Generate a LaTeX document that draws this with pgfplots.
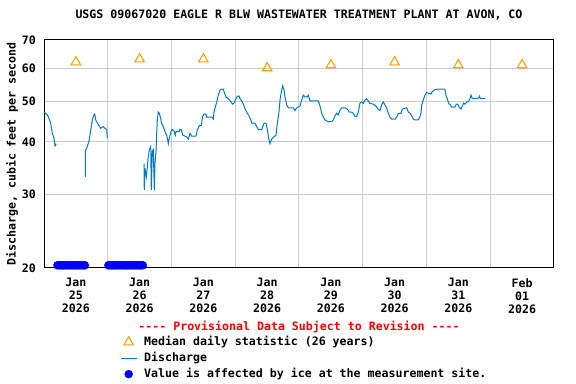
\documentclass[border=0pt]{standalone}
\usepackage{pgfplots}
\pgfplotsset{compat=1.18}
\usepackage{fontspec}
\setmainfont{DejaVu Sans Mono}[Ligatures=TeXOff]
\definecolor{qcol}{RGB}{0,122,204}
\definecolor{medcol}{RGB}{255,160,0}
\definecolor{gridc}{RGB}{204,204,204}
\newcommand\f{\fontsize{11.6bp}{13bp}\selectfont\bfseries}
\begin{document}
\begin{tikzpicture}
\useasboundingbox (-44bp,-116bp) rectangle (532bp,268bp);
\begin{axis}[
  at={(0,0)}, anchor=south west,
  scale only axis, width=510bp, height=228bp,
  ymode=log, ymin=20, ymax=70,
  xmin=0, xmax=8,
  xtick={0.5,1.5,2.5,3.5,4.5,5.5,6.5,7.5},
  xticklabels={{Jan\\25\\2026},{Jan\\26\\2026},{Jan\\27\\2026},{Jan\\28\\2026},{Jan\\29\\2026},{Jan\\30\\2026},{Jan\\31\\2026},{Feb\\01\\2026}},
  minor xtick={1,2,3,4,5,6,7},
  xminorgrids, ymajorgrids,
  ytick={20,30,40,50,60,70}, yticklabels={20,30,40,50,60,70},
  yminorticks=false,
  major tick length=0pt, minor tick length=0pt,
  grid style={gridc, line width=1bp},
  minor grid style={gridc, line width=1bp},
  axis line style={black, line width=1bp},
  tick label style={font=\f, inner sep=0pt},
  xticklabel style={align=center, anchor=north, yshift=-10bp},
  yticklabel style={anchor=east, xshift=-8bp},
  /pgf/number format/assume math mode=true,
  title={USGS 09067020 EAGLE R BLW WASTEWATER TREATMENT PLANT AT AVON, CO},
  title style={at={(rel axis cs:0.5,1)}, anchor=base, yshift=16bp, font=\f, inner sep=0pt},
  ylabel={Discharge, cubic feet per second},
  every axis y label/.style={at={(rel axis cs:0,0.5)}, xshift=-32bp, rotate=90, anchor=center, font=\f, inner sep=0pt},
  xlabel={---- Provisional Data Subject to Revision ----},
  every axis x label/.style={at={(rel axis cs:0.5,0)}, anchor=base, yshift=-62.5bp, font=\f, text=red, inner sep=0pt},
  unbounded coords=jump,
  legend style={at={(axis description cs:0.149,-0.298)}, anchor=north west, draw=none, fill=none, inner sep=0pt, font=\f, row sep=4bp, nodes={inner sep=0pt, text height=9bp, text depth=3bp}, /tikz/every odd column/.append style={column sep=7bp}},
  legend cell align=left,
  legend image code/.code={\draw[#1, mark repeat=2, mark phase=2] plot coordinates {(0bp,0bp) (8bp,0bp) (16bp,0bp)};},
]
\addplot[only marks, mark=triangle, mark size=5.5bp, mark options={draw=medcol, fill=none, line width=1.1bp}] coordinates {
(0.5,62) (1.5,63) (2.5,63) (3.5,60) (4.5,61) (5.5,62) (6.5,61) (7.5,61)};
\addlegendentry{Median daily statistic (26 years)}
\addplot[qcol, line width=1bp, mark=none] coordinates {
(0.000,47.1) (0.052,46.4) (0.078,45.5) (0.105,44.3) (0.130,41.9) (0.157,40.8) (0.173,39.1) (0.193,39.6)
(0.40,nan)
(0.648,33.0) (0.650,38.0) (0.679,39.0) (0.706,40.2) (0.733,42.7) (0.758,45.1) (0.784,46.4) (0.795,46.6)
(0.811,45.1) (0.836,44.4) (0.863,43.7) (0.889,43.1) (0.930,43.5) (0.952,43.1) (0.984,42.8) (0.993,40.8)
(1.30,nan)
(1.569,35.5) (1.573,30.7) (1.584,34.6) (1.605,33.0) (1.620,34.6) (1.631,36.4) (1.652,38.3) (1.674,39.0)
(1.683,30.7) (1.699,38.0) (1.715,38.3) (1.730,30.7) (1.741,35.5) (1.757,38.0) (1.768,41.9) (1.777,45.1)
(1.793,47.1) (1.809,46.8) (1.831,45.5) (1.846,44.3) (1.871,43.5) (1.898,42.3) (1.925,41.5) (1.950,39.6)
(1.965,40.8) (1.992,42.3) (2.008,42.8) (2.039,42.5) (2.060,41.5) (2.071,42.3) (2.122,42.3) (2.133,42.8)
(2.154,42.8) (2.176,41.5) (2.238,41.1) (2.264,40.6) (2.290,41.9) (2.317,41.3) (2.384,41.3) (2.405,42.7)
(2.436,43.7) (2.467,43.7) (2.489,46.0) (2.510,46.6) (2.541,46.6) (2.552,45.8) (2.635,45.8) (2.656,45.3)
(2.667,47.1) (2.687,48.4) (2.709,49.8) (2.734,51.7) (2.761,53.2) (2.787,53.4) (2.813,53.4) (2.835,52.1)
(2.855,51.2) (2.891,50.7) (2.918,50.1) (2.944,49.5) (2.960,49.2) (2.980,49.5) (3.012,50.7) (3.032,51.4)
(3.064,51.4) (3.075,50.7) (3.101,50.1) (3.126,49.2) (3.153,48.0) (3.180,47.1) (3.205,46.4) (3.242,45.3)
(3.258,44.3) (3.310,44.3) (3.336,43.5) (3.362,42.8) (3.415,42.8) (3.451,44.3) (3.482,44.3) (3.503,42.8)
(3.525,40.8) (3.545,39.6) (3.572,40.6) (3.597,41.0) (3.639,41.5) (3.660,44.3) (3.686,47.1) (3.702,50.3)
(3.729,53.2) (3.744,54.4) (3.765,53.2) (3.780,51.2) (3.807,49.0) (3.832,48.2) (3.911,48.2) (3.937,47.5)
(3.964,48.2) (4.016,48.7) (4.042,50.3) (4.067,51.7) (4.094,51.2) (4.130,51.2) (4.146,51.7) (4.173,50.1)
(4.303,50.1) (4.329,48.7) (4.356,46.8) (4.381,45.8) (4.408,45.1) (4.460,44.7) (4.513,44.7) (4.538,45.1)
(4.565,46.1) (4.591,46.8) (4.616,46.4) (4.643,47.6) (4.670,48.2) (4.722,48.2) (4.758,47.9) (4.789,47.1)
(4.827,47.1) (4.852,46.8) (4.878,46.0) (4.905,46.0) (4.930,47.1) (4.957,49.5) (4.984,49.8) (5.009,49.4)
(5.035,50.3) (5.062,50.7) (5.087,50.1) (5.114,49.4) (5.165,49.2) (5.208,48.7) (5.244,47.8) (5.271,47.5)
(5.297,49.0) (5.322,49.8) (5.349,49.0) (5.376,48.2) (5.401,46.8) (5.427,45.8) (5.454,45.3) (5.506,45.3)
(5.533,45.8) (5.558,46.8) (5.600,46.8) (5.620,47.9) (5.690,48.2) (5.715,47.1) (5.741,46.8) (5.768,46.1)
(5.793,45.3) (5.820,45.1) (5.871,45.1) (5.898,46.0) (5.914,46.8) (5.925,49.0) (5.950,50.3) (5.976,51.7)
(6.003,52.4) (6.039,52.2) (6.071,52.0) (6.091,52.7) (6.122,53.2) (6.160,53.4) (6.290,53.4) (6.306,51.7)
(6.333,50.3) (6.353,49.2) (6.369,49.2) (6.395,48.4) (6.447,48.4) (6.468,49.2) (6.489,49.2) (6.510,48.4)
(6.541,47.9) (6.562,48.7) (6.584,49.5) (6.604,49.2) (6.631,49.8) (6.656,49.8) (6.682,50.7) (6.698,51.7)
(6.719,50.7) (6.761,50.7) (6.820,50.9) (6.831,51.4) (6.847,50.7) (6.925,50.7)};
\addlegendentry{Discharge}
\addplot[only marks, mark=*, mark size=4bp, color=blue, mark options={draw=blue, fill=blue}] coordinates {
(0.21,20.3) (0.23,20.3) (0.25,20.3) (0.27,20.3) (0.29,20.3) (0.31,20.3) (0.33,20.3) (0.35,20.3)
(0.37,20.3) (0.39,20.3) (0.41,20.3) (0.43,20.3) (0.45,20.3) (0.47,20.3) (0.49,20.3) (0.51,20.3)
(0.53,20.3) (0.55,20.3) (0.57,20.3) (0.59,20.3) (0.61,20.3) (0.63,20.3) (0.64,20.3)
(1.01,20.3) (1.03,20.3) (1.05,20.3) (1.07,20.3) (1.09,20.3) (1.11,20.3) (1.13,20.3) (1.15,20.3)
(1.17,20.3) (1.19,20.3) (1.21,20.3) (1.23,20.3) (1.25,20.3) (1.27,20.3) (1.29,20.3) (1.31,20.3)
(1.33,20.3) (1.35,20.3) (1.37,20.3) (1.39,20.3) (1.41,20.3) (1.43,20.3) (1.45,20.3) (1.47,20.3)
(1.49,20.3) (1.51,20.3) (1.53,20.3) (1.55,20.3)};
\addlegendentry{Value is affected by ice at the measurement site.}
\end{axis}
\end{tikzpicture}
\end{document}
